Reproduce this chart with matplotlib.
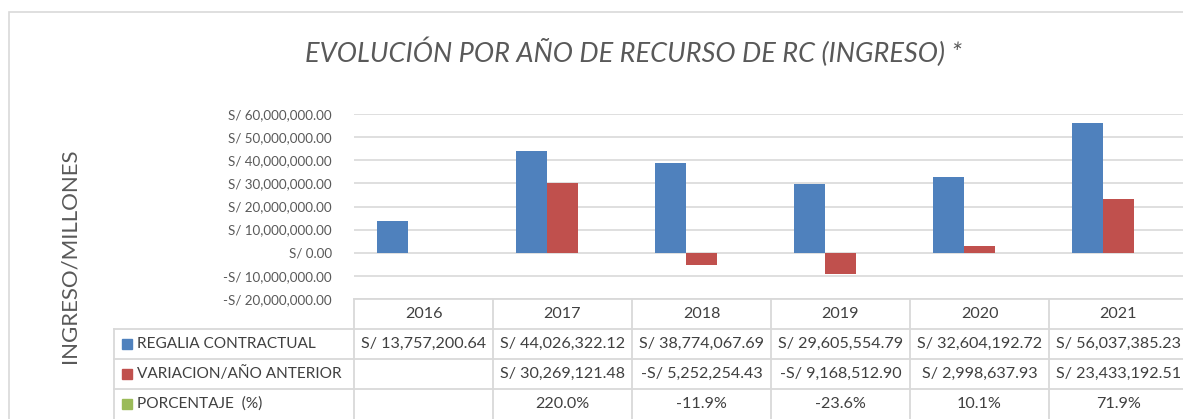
import numpy as np
import matplotlib.pyplot as plt
from matplotlib.patches import Rectangle
from matplotlib.ticker import FuncFormatter

plt.rcParams['font.family'] = ['Lato', 'DejaVu Sans']

# Datos
anios = ['2016', '2017', '2018', '2019', '2020', '2021']
regalia = [13757200.64, 44026322.12, 38774067.69, 29605554.79, 32604192.72, 56037385.23]
variacion = [np.nan, 30269121.48, -5252254.43, -9168512.90, 2998637.93, 23433192.51]
porcentaje = [np.nan, 2.200, -0.119, -0.236, 0.101, 0.719]
series = ['REGALIA CONTRACTUAL', 'VARIACION/AÑO ANTERIOR', 'PORCENTAJE  (%)']
colores = ['#4F81BD', '#C0504D', '#9BBB59']

W, H = 1183, 419
fig = plt.figure(figsize=(W / 100, H / 100), dpi=100)
fig.patch.set_facecolor('white')


def px(x0, y0, x1, y1):
    # caja en pixeles (desde arriba) -> coordenadas de figura
    return [x0 / W, 1 - y1 / H, (x1 - x0) / W, (y1 - y0) / H]


def soles(v):
    if np.isnan(v):
        return ''
    s = 'S/ {:,.2f}'.format(abs(v))
    return '-' + s if v < 0 else s


gris = '#d9d9d9'
texto = '#595959'

# borde del grafico
fig.patches.append(Rectangle((9 / W, -0.1), 1.2, 1 - 12 / H + 0.1, transform=fig.transFigure,
                             fill=False, edgecolor=gris, linewidth=1.2))

# Grafico de barras
ax = fig.add_axes(px(354, 114, 1188, 299))
x = np.arange(len(anios))
bw = 0.223
ax.bar(x - bw, regalia, bw, color=colores[0], zorder=3)
ax.bar(x, variacion, bw, color=colores[1], zorder=3)
ax.bar(x + bw, porcentaje, bw, color=colores[2], zorder=3)
ax.set_xlim(-0.5, len(anios) - 0.5)
ax.set_ylim(-20e6, 60e6)
ax.set_yticks(np.arange(-20e6, 60e6 + 1, 10e6))
ax.yaxis.set_major_formatter(FuncFormatter(lambda v, p: soles(v)))
ax.tick_params(axis='y', length=0, pad=16, labelsize=9.6, labelcolor=texto)
ax.set_xticks([])
ax.grid(axis='y', color=gris, linewidth=1.2, zorder=0)
for s in ax.spines.values():
    s.set_visible(False)

# Tabla de datos
tb = fig.add_axes(px(114, 299, 1188, 419))
izq = -0.5 - 240 / 139
tb.set_xlim(izq, len(anios) - 0.5)
tb.set_ylim(4, 0)
tb.axis('off')
lw = 1.3
tb.plot([-0.5, len(anios) - 0.5], [0, 0], color=gris, lw=lw, clip_on=False)
for r in [1, 2, 3]:
    tb.plot([izq, len(anios) - 0.5], [r, r], color=gris, lw=lw, clip_on=False)
tb.plot([izq, izq], [1, 4], color=gris, lw=lw, clip_on=False)
for c in range(len(anios) + 1):
    tb.plot([c - 0.5, c - 0.5], [0, 4], color=gris, lw=lw, clip_on=False)

fs = 11.6
tcol = '#404040'
for i, a in enumerate(anios):
    tb.text(i, 0.5, a, ha='center', va='center', fontsize=fs, color=tcol)
    tb.text(i, 1.5, soles(regalia[i]), ha='center', va='center', fontsize=fs, color=tcol)
    tb.text(i, 2.5, soles(variacion[i]), ha='center', va='center', fontsize=fs, color=tcol)
    if not np.isnan(porcentaje[i]):
        tb.text(i, 3.5, '{:.1f}%'.format(porcentaje[i] * 100), ha='center', va='center',
                fontsize=fs, color=tcol)

for k, (nom, col) in enumerate(zip(series, colores)):
    tb.add_patch(Rectangle((izq + 8 / 139, 1.5 + k - 0.17), 10 / 139, 0.34, color=col))
    tb.text(izq + 23 / 139, 1.5 + k, nom, ha='left', va='center', fontsize=11.1, color=tcol)

# Titulo y etiqueta
fig.text(634 / W, 1 - 52 / H, 'EVOLUCIÓN POR AÑO DE RECURSO DE RC (INGRESO) *', ha='center',
         va='center', fontsize=19.5, style='italic', color=texto)
fig.text(70 / W, 1 - 256 / H, 'INGRESO/MILLONES', rotation=90, ha='center', va='center',
         fontsize=16, color=texto)

fig.savefig('out.png', dpi=100)
